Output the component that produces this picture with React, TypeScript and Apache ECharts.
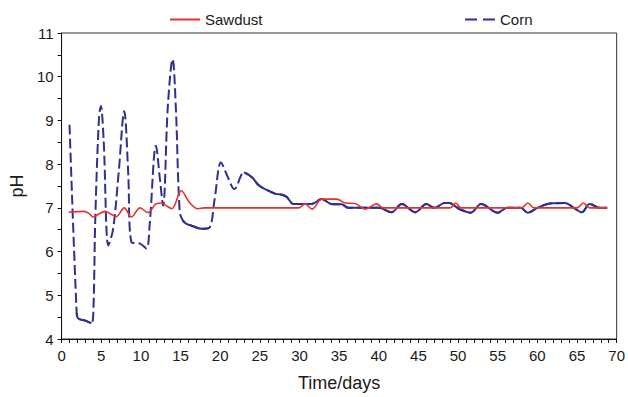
import { useEffect, useRef } from "react";
import * as echarts from "echarts";

// pH readings over the fermentation period
const sawdustDays = [0.9, 2.8, 3.4, 4.0, 4.6, 5.5, 6.2, 6.9, 7.9, 8.8, 9.9, 10.9, 12.0, 12.7, 13.2, 13.9, 15.1, 16.1, 17.2, 18.0, 29.9, 30.7, 31.6, 32.8, 34.7, 35.8, 37.0, 38.3, 39.7, 40.6, 49.0, 49.7, 50.4, 58.0, 58.8, 59.6, 65.0, 65.8, 66.6, 68.8];
const sawdustPH = [6.9, 6.92, 6.88, 6.79, 6.85, 6.92, 6.86, 6.8, 7.0, 6.79, 7.0, 6.89, 7.1, 7.11, 7.05, 6.98, 7.39, 7.13, 6.98, 7.0, 7.0, 7.09, 6.97, 7.2, 7.2, 7.11, 7.1, 6.97, 7.09, 7.0, 7.0, 7.11, 7.0, 7.0, 7.11, 7.0, 7.0, 7.11, 7.0, 7.0];

const cornDays = [1.0, 1.9, 2.1, 3.0, 3.75, 4.0, 4.25, 4.7, 4.95, 5.3, 5.9, 6.5, 7.2, 7.9, 8.4, 8.8, 9.9, 10.7, 11.1, 11.9, 12.4, 12.8, 13.4, 14.0, 14.4, 14.9, 15.3, 15.7, 16.6, 17.6, 18.6, 19.3, 20.1, 20.9, 21.8, 23.0, 24.0, 24.9, 26.0, 27.0, 27.8, 28.4, 29.2, 30.0, 31.5, 32.8, 34.0, 35.3, 36.2, 38.3, 40.0, 41.6, 42.9, 44.6, 46.0, 47.0, 48.3, 48.9, 49.7, 50.3, 51.6, 52.9, 55.0, 56.2, 57.9, 58.8, 60.0, 61.6, 63.5, 64.6, 65.6, 66.6, 67.9, 68.8];
const cornPH = [8.9, 4.6, 4.47, 4.42, 4.36, 4.6, 6.75, 9.0, 9.33, 8.57, 6.14, 6.52, 7.81, 9.21, 7.81, 6.22, 6.18, 6.07, 6.6, 8.42, 7.66, 7.05, 9.33, 10.4, 9.33, 6.9, 6.71, 6.64, 6.58, 6.52, 6.54, 7.2, 8.04, 7.73, 7.43, 7.81, 7.7, 7.51, 7.4, 7.32, 7.3, 7.25, 7.09, 7.09, 7.09, 7.2, 7.09, 7.08, 7.0, 7.0, 7.0, 6.9, 7.09, 6.9, 7.09, 7.0, 7.11, 7.11, 7.03, 6.96, 6.89, 7.09, 6.89, 7.0, 7.0, 6.89, 7.0, 7.1, 7.11, 7.0, 6.9, 7.09, 7.0, 7.0];

// day ranges where the corn trace is drawn as a continuous stroke
const cornSolidSpans: [number, number][] = [[1.9, 3.9], [15.3, 18.6], [23.0, 70]];

const xRange = { min: 0, max: 70, step: 5 };
const yRange = { min: 4, max: 11, step: 1 };

const RED = "#e5332a";
const NAVY = "#2f2f8f";
const FONT = "'Liberation Sans', Arial, sans-serif";

// legend keys: a plain stroke and a two-dash stroke
const SOLID_KEY = "path://M0,0h30v2h-30z";
const DASH_KEY = "path://M0,0h12v2h-12z M18,0h12v2h-12z";

export default function App() {
  const ref = useRef<HTMLDivElement>(null);

  useEffect(() => {
    if (!ref.current) return;
    const chart = echarts.init(ref.current, undefined, { renderer: "svg" });

    const sawdust = sawdustDays.map((d, i) => [d, sawdustPH[i]]);
    const corn = cornDays.map((d, i) => [d, cornPH[i]]);
    const solidPieces = cornSolidSpans.map(([a, b]) =>
      corn.filter(([d]) => d >= a && d <= b)
    );

    const lineBase = {
      type: "line" as const,
      symbol: "none",
      showSymbol: false,
      smooth: 0.35,
      silent: true,
    };

    const axisCommon = {
      axisLine: { show: true, lineStyle: { color: "#111", width: 1 } },
      axisTick: { show: true, inside: false, length: 4, lineStyle: { color: "#111" } },
      splitLine: { show: false },
      axisLabel: { color: "#1a1a1a", fontSize: 15, fontFamily: FONT },
      nameTextStyle: { color: "#1a1a1a", fontSize: 18, fontFamily: FONT },
    };

    const legendText = { color: "#1a1a1a", fontSize: 15, fontFamily: FONT };

    chart.setOption({
      animation: false,
      backgroundColor: "#ffffff",
      grid: {
        left: 61,
        right: 8,
        top: 33,
        bottom: 56,
        show: true,
        borderColor: "#333",
        borderWidth: 1,
      },
      legend: [
        {
          data: [{ name: "Sawdust", icon: SOLID_KEY }],
          left: 165,
          top: 7,
          itemWidth: 30,
          itemHeight: 2,
          itemGap: 10,
          textStyle: legendText,
        },
        {
          data: [{ name: "Corn", icon: DASH_KEY }],
          left: 460,
          top: 7,
          itemWidth: 30,
          itemHeight: 2,
          itemGap: 10,
          textStyle: legendText,
        },
      ],
      xAxis: {
        type: "value",
        min: xRange.min,
        max: xRange.max,
        interval: xRange.step,
        name: "Time/days",
        nameLocation: "middle",
        nameGap: 35,
        ...axisCommon,
        axisLabel: { ...axisCommon.axisLabel, margin: 9 },
        minorTick: { show: true, splitNumber: 5, length: 4, lineStyle: { color: "#111" } },
      },
      yAxis: {
        type: "value",
        min: yRange.min,
        max: yRange.max,
        interval: yRange.step,
        name: "pH",
        nameLocation: "middle",
        nameGap: 34,
        ...axisCommon,
        axisLabel: { ...axisCommon.axisLabel, margin: 8 },
        minorTick: { show: true, splitNumber: 2, length: 4, lineStyle: { color: "#111" } },
      },
      series: [
        {
          ...lineBase,
          name: "Sawdust",
          data: sawdust,
          lineStyle: { color: RED, width: 1.6 },
          itemStyle: { color: RED },
          z: 3,
        },
        {
          ...lineBase,
          name: "Corn",
          data: corn,
          lineStyle: { color: NAVY, width: 2, type: [10, 4] },
          itemStyle: { color: NAVY },
          z: 2,
        },
        ...solidPieces.map((piece) => ({
          ...lineBase,
          name: "Corn",
          data: piece,
          lineStyle: { color: NAVY, width: 2 },
          itemStyle: { color: NAVY },
          z: 2,
        })),
      ],
    });

    return () => chart.dispose();
  }, []);

  return (
    <div
      ref={ref}
      style={{ position: "fixed", left: 0, top: 0, width: 628, height: 397 }}
    />
  );
}
